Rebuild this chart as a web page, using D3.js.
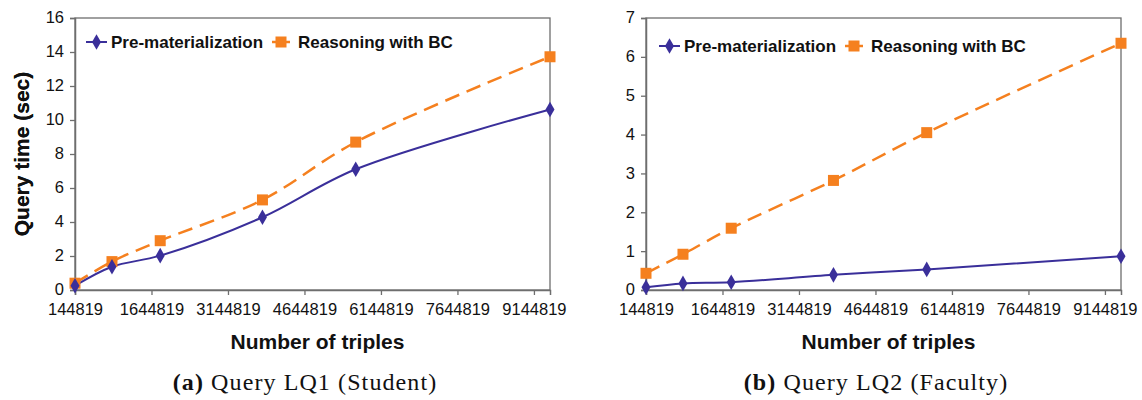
<!DOCTYPE html>
<html lang="en">
  <head>
    <meta charset="utf-8" />
    <title>Query time vs number of triples</title>
    <style>
      body {
        margin: 0;
        background: #fff;
      }
      .tick text {
        font-family: 'Liberation Sans', Arial, sans-serif;
        font-size: 16.5px;
        fill: #111;
      }
      .axis-title {
        font-family: 'Liberation Sans', Arial, sans-serif;
        font-weight: bold;
        font-size: 21px;
        fill: #111;
      }
      .legend text {
        font-family: 'Liberation Sans', Arial, sans-serif;
        font-weight: bold;
        font-size: 17px;
        fill: #111;
      }
      .caption {
        font-family: 'Liberation Serif', 'Times New Roman', serif;
        font-size: 24px;
        letter-spacing: 1.1px;
        fill: #111;
      }
    </style>
    <script src="https://d3js.org/d3.v7.min.js"></script>
  </head>

  <body>
    <svg width="1142" height="400"></svg>

    <script>
      // values
      const triples = [144819, 870000, 1816000, 3821000, 5650000, 9460000];
      const xTicks = [144819, 1644819, 3144819, 4644819, 6144819, 7644819, 9144819];

      const lq1Pre = [0.25, 1.37, 2.02, 4.28, 7.1, 10.62];
      const lq1BC = [0.4, 1.67, 2.9, 5.3, 8.7, 13.72];
      const lq1Ticks = [0, 2, 4, 6, 8, 10, 12, 14, 16];

      const lq2Pre = [0.07, 0.17, 0.2, 0.39, 0.53, 0.87];
      const lq2BC = [0.43, 0.92, 1.59, 2.82, 4.05, 6.35];
      const lq2Ticks = [0, 1, 2, 3, 4, 5, 6, 7];

      const seriesNames = ['Pre-materialization', 'Reasoning with BC'];

      const blue = '#3a2f9a';
      const orange = '#f5801f';

      const svg = d3.select('svg');

      function drawChart(opts) {
        const g = svg.append('g').attr('transform', `translate(${opts.left},0)`);
        const w = 475;
        const top = 18;
        const bottom = 290;

        const x = d3.scaleLinear().domain([triples[0], triples[triples.length - 1]]).range([0, w]);
        const y = d3.scaleLinear().domain([0, opts.yMax]).range([bottom, top]);

        // plot frame
        g.append('rect')
          .attr('x', 0)
          .attr('y', top)
          .attr('width', w)
          .attr('height', bottom - top)
          .attr('fill', 'none')
          .attr('stroke', '#6e6e6e')
          .attr('stroke-width', 1.3);

        const xAxis = g
          .append('g')
          .attr('transform', `translate(0,${bottom})`)
          .call(d3.axisBottom(x).tickValues(xTicks).tickFormat(d3.format('d')).tickSize(5).tickPadding(8));
        const yAxis = g
          .append('g')
          .call(d3.axisLeft(y).tickValues(opts.yTicks).tickFormat(d3.format('d')).tickSize(5).tickPadding(6));
        [xAxis, yAxis].forEach((a) => {
          a.select('.domain').attr('stroke', '#6e6e6e').attr('stroke-width', 1.5);
          a.selectAll('.tick line').attr('stroke', '#6e6e6e').attr('stroke-width', 1.3);
        });
        yAxis.selectAll('.tick text').attr('dy', '0.3em');

        g.append('text')
          .attr('class', 'axis-title')
          .attr('x', w / 2 + 5)
          .attr('y', 349)
          .attr('text-anchor', 'middle')
          .text('Number of triples');
        g.append('text')
          .attr('class', 'axis-title')
          .attr('transform', `translate(${-opts.left + 29},${(top + bottom) / 2}) rotate(-90)`)
          .attr('text-anchor', 'middle')
          .text('Query time (sec)');

        const line = d3
          .line()
          .x((d, i) => x(triples[i]))
          .y((d) => y(d))
          .curve(d3.curveCatmullRom.alpha(0.5));

        g.append('path')
          .attr('d', line(opts.bc))
          .attr('fill', 'none')
          .attr('stroke', orange)
          .attr('stroke-width', 2.5)
          .attr('stroke-dasharray', '15,8');
        g.append('path')
          .attr('d', line(opts.pre))
          .attr('fill', 'none')
          .attr('stroke', blue)
          .attr('stroke-width', 2);

        const diamond = d3.symbol().type(d3.symbolDiamond).size(70);
        g.selectAll('.sq')
          .data(opts.bc)
          .join('rect')
          .attr('x', (d, i) => x(triples[i]) - 5.5)
          .attr('y', (d) => y(d) - 5.5)
          .attr('width', 11)
          .attr('height', 11)
          .attr('fill', orange);
        g.selectAll('.dia')
          .data(opts.pre)
          .join('path')
          .attr('d', diamond)
          .attr('transform', (d, i) => `translate(${x(triples[i])},${y(d)})`)
          .attr('fill', blue);

        // legend
        const lg = g.append('g').attr('class', 'legend').attr('transform', `translate(${opts.legX},${opts.legY})`);
        lg.append('line').attr('x1', 0).attr('x2', 21).attr('stroke', blue).attr('stroke-width', 2);
        lg.append('path').attr('d', diamond).attr('transform', 'translate(10.5,0)').attr('fill', blue);
        lg.append('text').attr('x', 25).attr('dy', '0.35em').text(seriesNames[0]);
        lg.append('line')
          .attr('x1', 186)
          .attr('x2', 204)
          .attr('stroke', orange)
          .attr('stroke-width', 2.5);
        lg.append('rect').attr('x', 189.5).attr('y', -5.5).attr('width', 11).attr('height', 11).attr('fill', orange);
        lg.append('text').attr('x', 212).attr('dy', '0.35em').text(seriesNames[1]);

        const cap = svg
          .append('text')
          .attr('class', 'caption')
          .attr('x', opts.capX)
          .attr('y', 390)
          .attr('text-anchor', 'middle');
        cap.append('tspan').attr('font-weight', 'bold').text(opts.capTag);
        cap.append('tspan').text(' ' + opts.capText);
      }

      drawChart({
        left: 75,
        yMax: 16,
        yTicks: lq1Ticks,
        pre: lq1Pre,
        bc: lq1BC,
        legX: 11,
        legY: 42,
        capX: 305,
        capTag: '(a)',
        capText: 'Query LQ1 (Student)',
      });
      drawChart({
        left: 646,
        yMax: 7,
        yTicks: lq2Ticks,
        pre: lq2Pre,
        bc: lq2BC,
        legX: 13,
        legY: 46,
        capX: 876,
        capTag: '(b)',
        capText: 'Query LQ2 (Faculty)',
      });
    </script>
  </body>
</html>
